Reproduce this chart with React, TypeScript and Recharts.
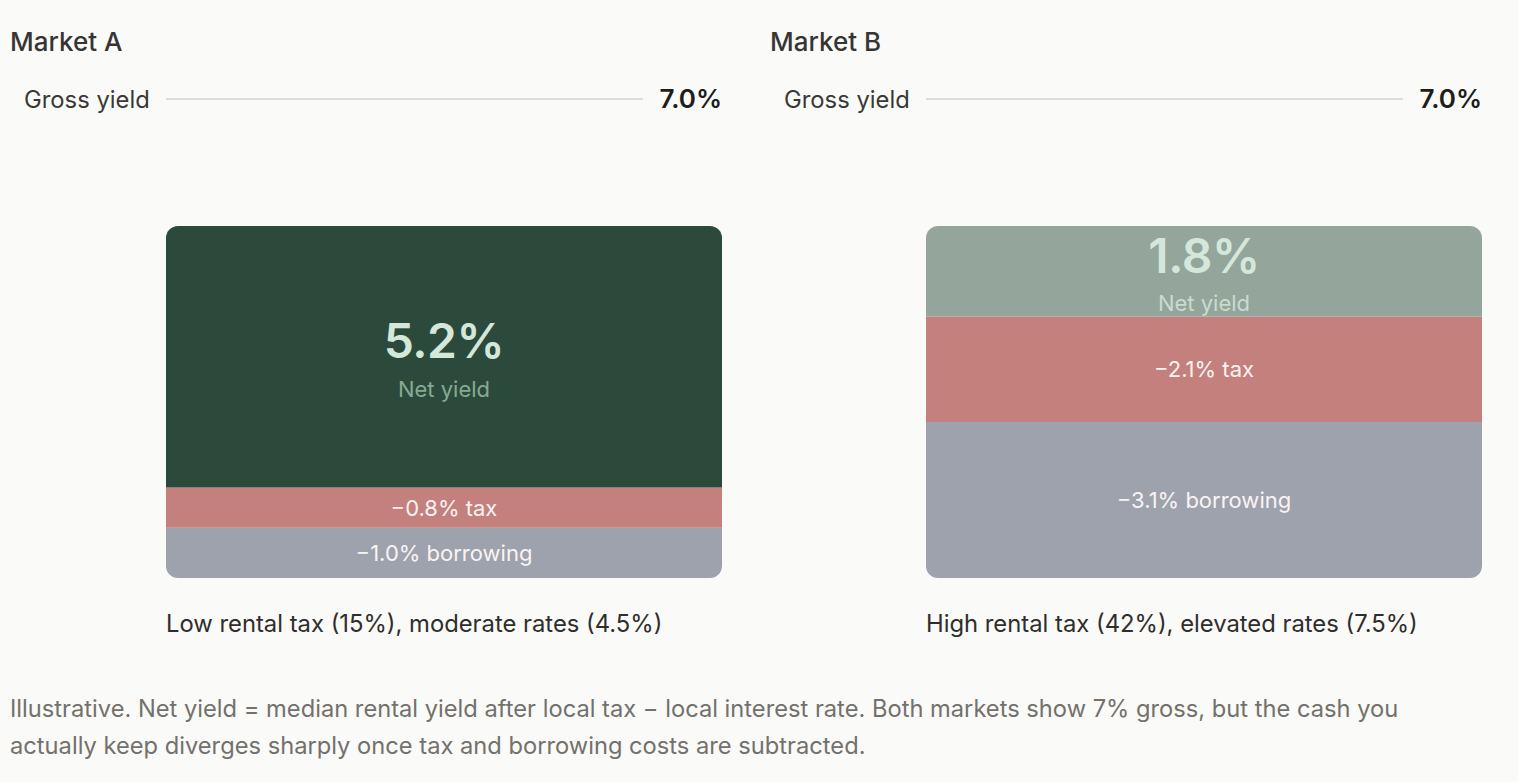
import { BarChart, Bar, XAxis, YAxis, LabelList } from "recharts";

// values (percent)
const markets = ["Market A", "Market B"];
const grossYield = [7.0, 7.0];
const netYield = [5.2, 1.8];
const taxCost = [0.8, 2.1];
const borrowingCost = [1.0, 3.1];
const captions = [
  "Low rental tax (15%), moderate rates (4.5%)",
  "High rental tax (42%), elevated rates (7.5%)",
];
const netColors = ["#2c4a3c", "#94a59b"];
const netSubColors = ["#86ab92", "#c9dccf"];

const FONT = "Inter, 'Noto Sans', sans-serif";
const BAR_W = 556;
const BAR_H = 352;

document.body.style.margin = "0";
document.body.style.background = "#fafaf8";

function NetLabel(props: any) {
  const { x, y, width, height, value, subColor } = props;
  const cx = x + width / 2;
  const cy = y + height / 2;
  return (
    <g fontFamily={FONT} textAnchor="middle">
      <text x={cx} y={cy - 16} dominantBaseline="central" fontSize={48} fontWeight={600} fill="#d3e8da" letterSpacing={-0.5}>
        {value.toFixed(1)}%
      </text>
      <text x={cx} y={cy + 32} dominantBaseline="central" fontSize={22} fill={subColor}>
        Net yield
      </text>
    </g>
  );
}

function CostLabel(props: any) {
  const { x, y, width, height, value, suffix } = props;
  return (
    <text
      x={x + width / 2}
      y={y + height / 2}
      textAnchor="middle"
      dominantBaseline="central"
      fontFamily={FONT}
      fontSize={22}
      fill="#fbf3f2"
    >
      {"\u2212" + value.toFixed(1) + "% " + suffix}
    </text>
  );
}

function MarketColumn({ i }: { i: number }) {
  const data = [
    {
      name: markets[i],
      borrowing: borrowingCost[i],
      tax: taxCost[i],
      net: netYield[i],
    },
  ];
  const left = 10 + i * 760;
  return (
    <div style={{ position: "absolute", left, top: 0, width: 712, height: 680 }}>
      <div style={{ position: "absolute", left: 0, top: 26, fontSize: 26, fontWeight: 500, color: "#363533" }}>
        {markets[i]}
      </div>
      <div style={{ position: "absolute", left: 14, top: 85, fontSize: 23.8, color: "#3a3936" }}>Gross yield</div>
      <div style={{ position: "absolute", left: 156, top: 98, width: 477, height: 2, background: "#dedcd8" }} />
      <div style={{ position: "absolute", right: 0, top: 83, fontSize: 26, fontWeight: 600, color: "#1d1d1b" }}>
        {grossYield[i].toFixed(1)}%
      </div>
      <div style={{ position: "absolute", left: 156, top: 226 }}>
        <BarChart width={BAR_W} height={BAR_H} data={data} margin={{ top: 0, right: 0, bottom: 0, left: 0 }} barCategoryGap={0}>
          <XAxis dataKey="name" hide />
          <YAxis hide domain={[0, grossYield[i]]} />
          <Bar dataKey="borrowing" stackId="s" fill="#9ea2ad" radius={[0, 0, 12, 12]} isAnimationActive={false}>
            <LabelList dataKey="borrowing" content={(p: any) => <CostLabel {...p} suffix="borrowing" />} />
          </Bar>
          <Bar dataKey="tax" stackId="s" fill="#c4807c" isAnimationActive={false}>
            <LabelList dataKey="tax" content={(p: any) => <CostLabel {...p} suffix="tax" />} />
          </Bar>
          <Bar dataKey="net" stackId="s" fill={netColors[i]} radius={[12, 12, 0, 0]} isAnimationActive={false}>
            <LabelList dataKey="net" content={(p: any) => <NetLabel {...p} subColor={netSubColors[i]} />} />
          </Bar>
        </BarChart>
      </div>
      <div style={{ position: "absolute", left: 156, top: 609, fontSize: 23.8, color: "#2f2e2c" }}>{captions[i]}</div>
    </div>
  );
}

export default function App() {
  return (
    <div
      style={{
        position: "relative",
        width: 1518,
        height: 782,
        background: "#fafaf8",
        fontFamily: FONT,
        overflow: "hidden",
      }}
    >
      <MarketColumn i={0} />
      <MarketColumn i={1} />
      <div style={{ position: "absolute", left: 10, top: 690, fontSize: 23.7, lineHeight: "37px", color: "#73716c", whiteSpace: "nowrap" }}>
        <div>
          Illustrative. Net yield = median rental yield after local tax − local interest rate. Both markets show 7% gross, but the cash you
        </div>
        <div>actually keep diverges sharply once tax and borrowing costs are subtracted.</div>
      </div>
    </div>
  );
}
